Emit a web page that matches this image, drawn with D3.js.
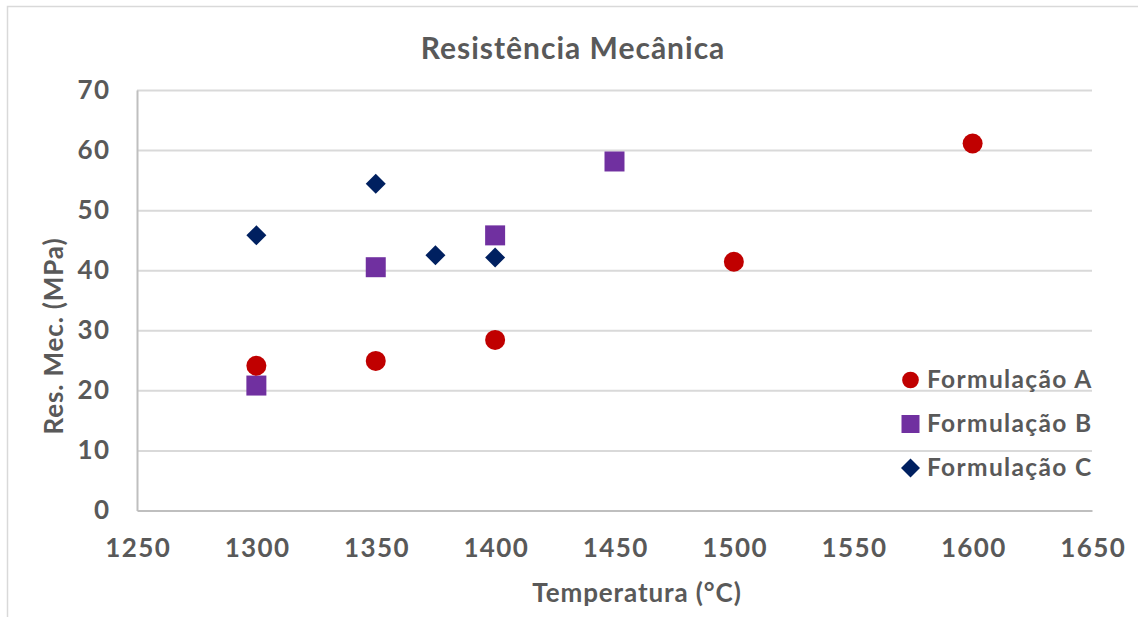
<!DOCTYPE html>
<html>
<head>
<meta charset="utf-8">
<script src="https://cdn.jsdelivr.net/npm/d3@7"></script>
<style>
  html, body { margin: 0; padding: 0; background: #fff; }
  svg { display: block; }
  text { font-family: Lato, "Open Sans", sans-serif; font-weight: bold; fill: #595959; }
</style>
</head>
<body>
<script>
// Mechanical strength (MPa) vs firing temperature (°C) for three formulations
const tempsA = [1300, 1350, 1400, 1500, 1600];
const valuesA = [24.1, 24.9, 28.4, 41.4, 61.1];

const tempsB = [1300, 1350, 1400, 1450];
const valuesB = [20.8, 40.5, 45.8, 58.1];

const tempsC = [1300, 1350, 1375, 1400];
const valuesC = [45.8, 54.4, 42.5, 42.1];

const seriesNames = ["Formulação A", "Formulação B", "Formulação C"];
const xTicks = [1250, 1300, 1350, 1400, 1450, 1500, 1550, 1600, 1650];
const yTicks = [0, 10, 20, 30, 40, 50, 60, 70];

const W = 1138, H = 617;
const plot = { left: 137, right: 1092, top: 90, bottom: 510.5 };

const svg = d3.select("body").append("svg").attr("width", W).attr("height", H);

// chart frame (top and left edges visible)
svg.append("path")
  .attr("d", `M7.5,${H} L7.5,6.5 L${W},6.5`)
  .attr("fill", "none").attr("stroke", "#D9D9D9").attr("stroke-width", 1.5);

const x = d3.scaleLinear().domain([1250, 1650]).range([plot.left, plot.right]);
const y = d3.scaleLinear().domain([0, 70]).range([plot.bottom, plot.top]);

// horizontal gridlines
svg.append("g")
  .attr("transform", `translate(${plot.left},0)`)
  .call(d3.axisRight(y).tickValues(yTicks.filter(v => v > 0)).tickSize(plot.right - plot.left).tickFormat(""))
  .call(g => g.select(".domain").remove())
  .call(g => g.selectAll("line").attr("stroke", "#D9D9D9").attr("stroke-width", 2));

const tickStyle = g => g.selectAll("text")
  .style("font-size", "26px").style("font-family", "Lato, sans-serif")
  .style("letter-spacing", "1.4px").attr("fill", "#595959");

// y axis
svg.append("g")
  .attr("transform", `translate(${plot.left},0)`)
  .call(d3.axisLeft(y).tickValues(yTicks).tickSize(0).tickPadding(26.6))
  .call(g => g.select(".domain").attr("stroke", "#BFBFBF").attr("stroke-width", 2))
  .call(tickStyle);

// x axis
svg.append("g")
  .attr("transform", `translate(0,${plot.bottom})`)
  .call(d3.axisBottom(x).tickValues(xTicks).tickSize(0).tickPadding(28).tickFormat(d3.format("d")))
  .call(g => g.select(".domain").attr("stroke", "#BFBFBF").attr("stroke-width", 2))
  .call(tickStyle)
  .call(g => g.selectAll("text").attr("dx", "0.7px"));

// titles
svg.append("text").attr("x", 573).attr("y", 59).attr("text-anchor", "middle")
  .style("font-size", "30px").style("letter-spacing", "1px").text("Resistência Mecânica");
svg.append("text").attr("x", 637).attr("y", 602).attr("text-anchor", "middle")
  .style("font-size", "26px").style("letter-spacing", "0.9px").text("Temperatura (°C)");
svg.append("text").attr("transform", "translate(63,336) rotate(-90)").attr("text-anchor", "middle")
  .style("font-size", "26px").style("letter-spacing", "0.85px").text("Res. Mec. (MPa)");

const colors = ["#C00000", "#7030A0", "#002060"];
const symbols = [d3.symbolCircle, d3.symbolSquare, d3.symbolSquare];
const rotations = [0, 0, 45];
const symbolSizes = [314, 400, 200];

const series = [
  { t: tempsA, v: valuesA },
  { t: tempsB, v: valuesB },
  { t: tempsC, v: valuesC }
];

// diamonds first, then squares, then circles on top
[2, 1, 0].forEach(i => {
  const s = series[i];
  const pts = s.t.map((t, k) => [t, s.v[k]]);
  svg.append("g").selectAll("path").data(pts).join("path")
    .attr("transform", d => `translate(${x(d[0])},${y(d[1])}) rotate(${rotations[i]})`)
    .attr("d", d3.symbol(symbols[i], symbolSizes[i])())
    .attr("fill", colors[i]);
});

// legend
const legendRows = [380, 424, 468];
const legendSizes = [219, 324, 180];
seriesNames.forEach((name, i) => {
  const g = svg.append("g").attr("transform", `translate(910.5,${legendRows[i]})`);
  g.append("path").attr("d", d3.symbol(symbols[i], legendSizes[i])())
    .attr("transform", `rotate(${rotations[i]})`).attr("fill", colors[i]);
  g.append("text").attr("x", 16.5).attr("y", 7.5)
    .style("font-size", "24.5px").style("letter-spacing", "1.35px").text(name);
});
</script>
</body>
</html>
